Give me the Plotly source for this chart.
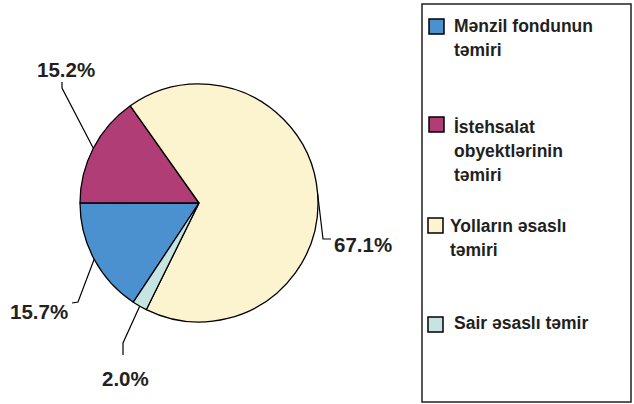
import math
import plotly.graph_objects as go

# ---- data ----
categories = ["Mənzil fondunun<br>təmiri",
              "İstehsalat<br>obyektlərinin<br>təmiri",
              "Yolların əsaslı<br>təmiri",
              "Sair əsaslı təmir"]
values = [15.7, 15.2, 67.1, 2.0]
colors = ["#4b91cf", "#b03d76", "#fcf3cf", "#c6e4e2"]

# ---- layout constants (pixels) ----
W, H = 634, 404
CX, CY, R = 199, 203, 119
ROTATION = -146.5
TEXT_COLOR = "#231f20"

# leader-line elbow/end and text centre per slice (pixels)
label_layout = [
    dict(elbow=(78, 302), end=(72, 303), text=(39, 311)),
    dict(elbow=(62, 88), end=(62, 82), text=(66, 70)),
    dict(elbow=(323, 239), end=(331, 239), text=(363, 244)),
    dict(elbow=(123, 343), end=(123, 355), text=(125, 378)),
]
# legend layout (pixels)
legend_box = (422, 4, 631, 402)
legend_sq = [(429, 19), (429, 117), (428, 218), (428, 317)]
legend_txt_x = [452, 452, 448, 452]
legend_first_base = [32.5, 133.3, 232, 329.5]
LEG_LINE = 23.8
LEG_FONT = 17.5
SQ = 15


def px(x):
    return x / W


def py(y):
    return 1 - y / H


fig = go.Figure()
fig.add_trace(go.Pie(
    labels=[c.replace("<br>", " ") for c in categories],
    values=values,
    marker=dict(colors=colors, line=dict(color="#000000", width=1.3)),
    sort=False,
    direction="clockwise",
    rotation=ROTATION,
    textinfo="none",
    hoverinfo="label+percent",
    showlegend=False,
    domain=dict(x=[px(CX - R), px(CX + R)], y=[py(CY + R), py(CY - R)]),
))

shapes = []
annotations = []

total = sum(values)
start = ROTATION
for v, lay in zip(values, label_layout):
    span = v / total * 360
    mid = math.radians(start + span / 2)
    start += span
    p = (CX + R * math.sin(mid), CY - R * math.cos(mid))
    e, f = lay["elbow"], lay["end"]
    path = "M {} {} L {} {} L {} {}".format(px(p[0]), py(p[1]), px(e[0]), py(e[1]), px(f[0]), py(f[1]))
    shapes.append(dict(type="path", xref="paper", yref="paper", path=path,
                       line=dict(color="#000000", width=1.2)))
    tx, ty = lay["text"]
    annotations.append(dict(x=px(tx), y=py(ty), xref="paper", yref="paper",
                            text="{:.1f}%".format(v), showarrow=False,
                            xanchor="center", yanchor="middle",
                            font=dict(family="Liberation Sans, Arial", size=20.5,
                                      color=TEXT_COLOR, weight="bold")))

# legend box
x0, y0, x1, y1 = legend_box
shapes.append(dict(type="rect", xref="paper", yref="paper",
                   x0=px(x0), x1=px(x1), y0=py(y1), y1=py(y0),
                   line=dict(color=TEXT_COLOR, width=1.5), fillcolor="rgba(0,0,0,0)"))

for cat, col, (sx, sy), tx, base in zip(categories, colors, legend_sq, legend_txt_x, legend_first_base):
    shapes.append(dict(type="rect", xref="paper", yref="paper",
                       x0=px(sx), x1=px(sx + SQ), y0=py(sy + SQ), y1=py(sy),
                       line=dict(color="#000000", width=1.5), fillcolor=col))
    for i, line in enumerate(cat.split("<br>")):
        b = base + i * LEG_LINE
        annotations.append(dict(x=px(tx), y=py(b - 0.36 * LEG_FONT), xref="paper", yref="paper",
                                text=line, showarrow=False, xanchor="left", yanchor="middle",
                                font=dict(family="Liberation Sans, Arial", size=LEG_FONT,
                                          color=TEXT_COLOR, weight="bold")))

fig.update_layout(
    width=W, height=H,
    margin=dict(l=0, r=0, t=0, b=0),
    paper_bgcolor="white", plot_bgcolor="white",
    shapes=shapes, annotations=annotations,
    showlegend=False,
)

fig.write_html("out.html",
               config={"displayModeBar": False},
               post_script="document.body.style.margin='0';document.body.style.overflow='hidden';")
